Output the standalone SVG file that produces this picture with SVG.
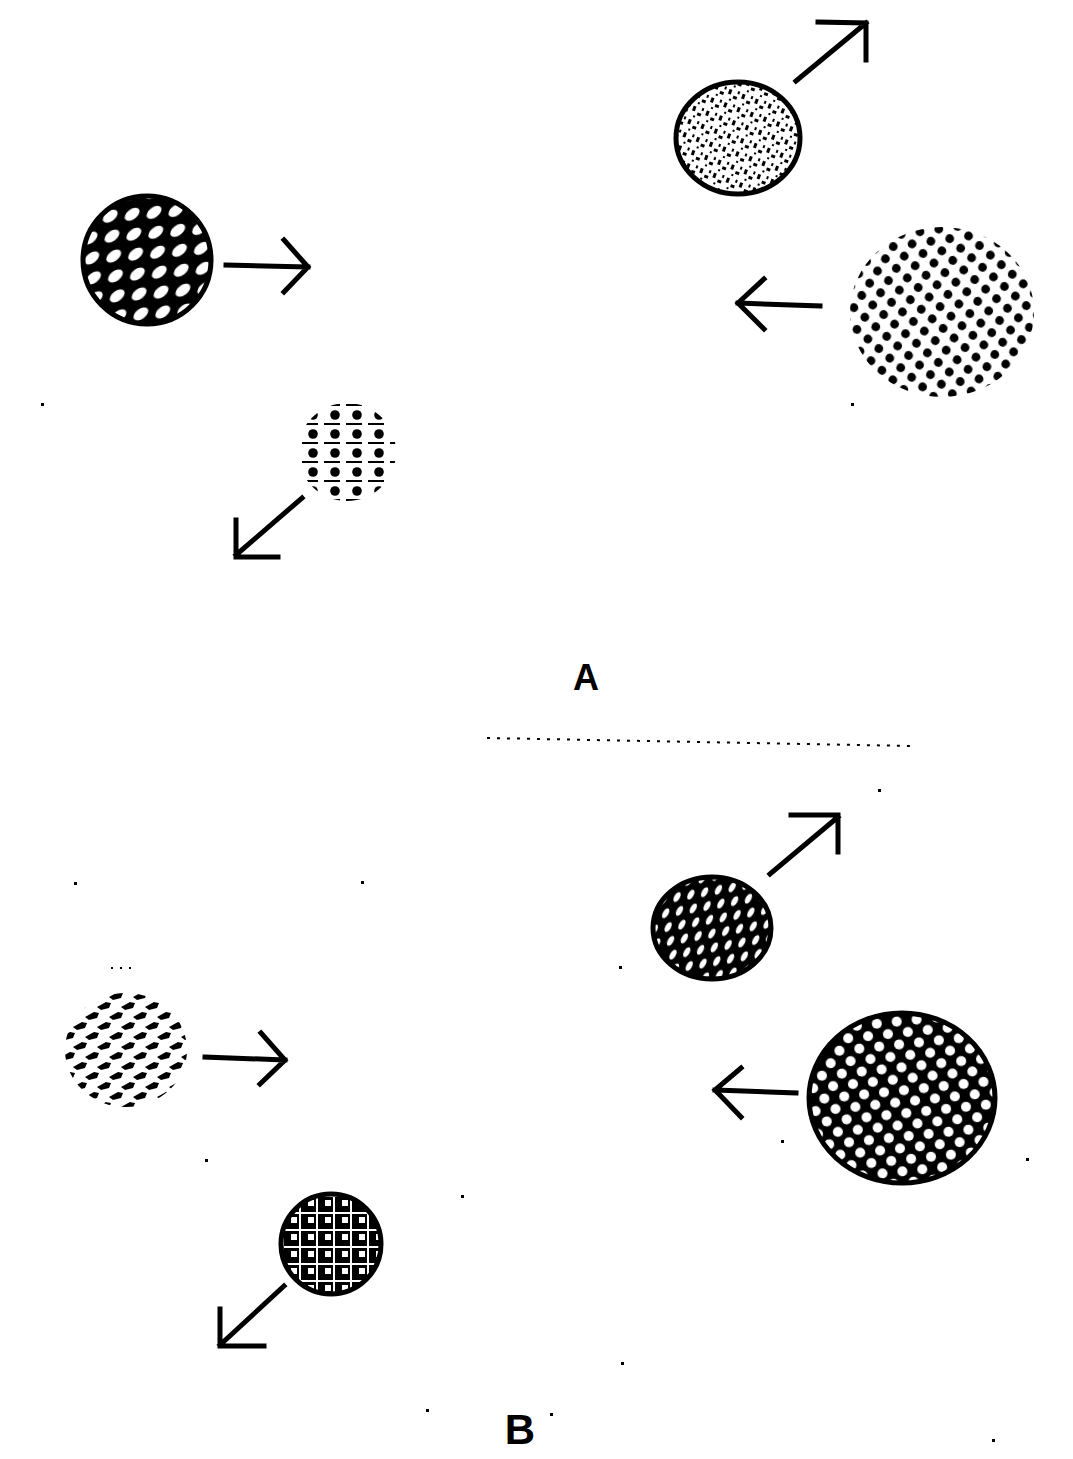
<svg xmlns="http://www.w3.org/2000/svg" width="1073" height="1459" viewBox="0 0 1073 1459">
<style>
.arr{fill:none;stroke:#000;stroke-width:5;stroke-linecap:square;stroke-linejoin:miter}
.ol{stroke:#000;stroke-width:5}
.lbl{font-family:"Liberation Sans",Arial,sans-serif;font-weight:bold;fill:#000}
.speck{fill:#000}
</style>
<defs>
<pattern id="p1" width="22" height="20" patternUnits="userSpaceOnUse" x="80" y="195" patternTransform="rotate(-5)">
<rect width="22" height="20" fill="#000"/>
<ellipse cx="11" cy="10" rx="8.5" ry="5" fill="#fff" transform="rotate(-32 11 10)"/>
</pattern>
<pattern id="p2" width="14" height="14" patternUnits="userSpaceOnUse" patternTransform="rotate(20)">
<rect width="14" height="14" fill="#fff"/>
<rect x="2" y="2" width="3" height="5" fill="#000"/>
<rect x="8" y="7" width="4" height="3" fill="#000"/>
<rect x="5" y="11" width="2" height="2" fill="#000"/>
<rect x="11" y="1" width="2" height="3" fill="#000"/>
</pattern>
<pattern id="p3" width="19" height="22" patternUnits="userSpaceOnUse" patternTransform="rotate(-8)">
<circle cx="4.75" cy="5.5" r="4.4" fill="#000"/>
<circle cx="14.25" cy="16.5" r="4.4" fill="#000"/>
</pattern>
<pattern id="p4" width="22" height="19" patternUnits="userSpaceOnUse" x="302" y="404">
<circle cx="11" cy="11" r="4.8" fill="#000"/>
<rect x="0" y="0" width="16" height="2" fill="#000"/>
</pattern>
<pattern id="p5" width="14" height="14" patternUnits="userSpaceOnUse" patternTransform="rotate(-10)">
<rect width="14" height="14" fill="#000"/>
<ellipse cx="7" cy="7" rx="5.5" ry="2.8" fill="#fff" transform="rotate(-50 7 7)"/>
</pattern>
<pattern id="p6" width="20" height="23" patternUnits="userSpaceOnUse" patternTransform="rotate(-6)">
<rect width="20" height="23" fill="#000"/>
<circle cx="5" cy="5.75" r="5" fill="#fff"/>
<circle cx="15" cy="17.25" r="5" fill="#fff"/>
</pattern>
<pattern id="p7" width="24" height="20" patternUnits="userSpaceOnUse" x="60" y="990">
<path d="M1,7 L10,2 L15,3 L13,8 L5,10 Z" fill="#000"/>
<path d="M13,17 L22,12 L27,13 L25,18 L17,20 Z" fill="#000"/>
<path d="M-11,17 L-2,12 L3,13 L1,18 L-7,20 Z" fill="#000"/>
</pattern>
<pattern id="p8" width="17" height="17" patternUnits="userSpaceOnUse" x="282" y="1195">
<rect width="17" height="17" fill="#000"/>
<rect x="0" y="0" width="17" height="2" fill="#fff"/>
<rect x="0" y="0" width="2" height="17" fill="#fff"/>
<rect x="9" y="5" width="6" height="6" fill="#fff"/>
</pattern>
</defs>
<rect width="1073" height="1459" fill="#fff"/>

<g id="node-a-left"><circle cx="147" cy="260" r="64" fill="url(#p1)" class="ol"/></g>
<g id="node-a-topright"><ellipse cx="738" cy="138" rx="62" ry="56" fill="url(#p2)" class="ol"/></g>
<g id="node-a-right"><ellipse cx="942" cy="312" rx="92" ry="85" fill="url(#p3)"/></g>
<g id="node-a-small"><circle cx="347" cy="452" r="49" fill="url(#p4)"/></g>
<g id="node-b-topright"><ellipse cx="712" cy="928" rx="59" ry="51" fill="url(#p5)" class="ol"/></g>
<g id="node-b-right"><ellipse cx="902" cy="1098" rx="93" ry="85" fill="url(#p6)" class="ol"/></g>
<g id="node-b-left"><ellipse cx="126" cy="1050" rx="61" ry="57" fill="url(#p7)"/></g>
<g id="node-b-small"><circle cx="331" cy="1244" r="50" fill="url(#p8)" class="ol"/></g>

<g id="connectors">
<path class="arr" d="M226,265 L308,267 M284,240 L308,267 L284,292"/>
<path class="arr" d="M796,81 L866,23 M818,22 L866,23 L866,60"/>
<path class="arr" d="M820,306 L738,303 M764,279 L738,303 L764,329"/>
<path class="arr" d="M302,498 L236,555 M236,520 L236,557 L278,557"/>
<path class="arr" d="M770,874 L838,817 M791,815 L838,815 L838,852"/>
<path class="arr" d="M796,1093 L715,1090 M741,1068 L715,1090 L741,1117"/>
<path class="arr" d="M205,1057 L285,1060 M261,1033 L285,1060 L260,1084"/>
<path class="arr" d="M284,1286 L220,1345 M220,1309 L220,1346 L264,1346"/>
</g>

<g id="divider">
<line x1="487" y1="738" x2="912" y2="746" stroke="#000" stroke-width="2" stroke-dasharray="3,7"/>
</g>

<g id="label-a"><text class="lbl" x="586" y="690" font-size="36" text-anchor="middle">A</text></g>
<g id="label-b"><text class="lbl" x="520" y="1444" font-size="42" text-anchor="middle">B</text></g>

<g id="specks">
<rect class="speck" x="41" y="403" width="3" height="3"/>
<rect class="speck" x="851" y="403" width="3" height="3"/>
<rect class="speck" x="74" y="882" width="3" height="3"/>
<rect class="speck" x="361" y="881" width="3" height="3"/>
<rect class="speck" x="878" y="789" width="3" height="3"/>
<rect class="speck" x="619" y="966" width="3" height="3"/>
<rect class="speck" x="1026" y="1158" width="3" height="3"/>
<rect class="speck" x="205" y="1159" width="3" height="3"/>
<rect class="speck" x="461" y="1195" width="3" height="3"/>
<rect class="speck" x="426" y="1409" width="3" height="3"/>
<rect class="speck" x="621" y="1362" width="3" height="3"/>
<rect class="speck" x="550" y="1413" width="3" height="3"/>
<rect class="speck" x="992" y="1439" width="3" height="3"/>
<rect class="speck" x="111" y="967" width="2" height="2"/>
<rect class="speck" x="120" y="967" width="2" height="2"/>
<rect class="speck" x="129" y="967" width="2" height="2"/>
<rect class="speck" x="781" y="1140" width="3" height="3"/>
</g>
</svg>
